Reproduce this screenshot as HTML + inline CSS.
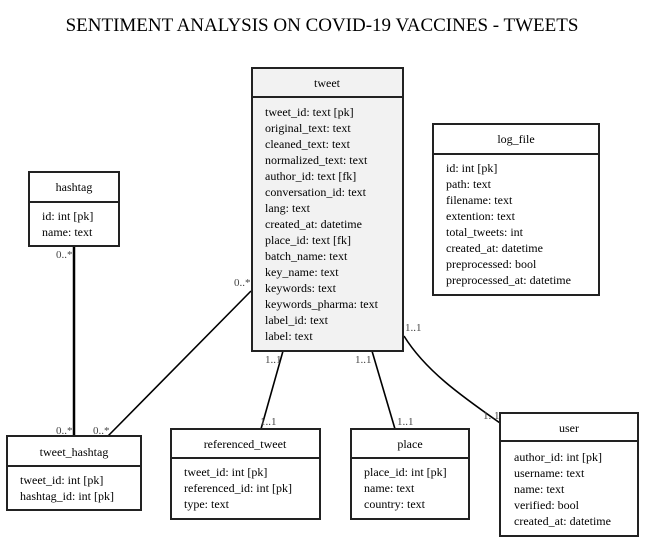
<!DOCTYPE html>
<html><head><meta charset="utf-8"><style>
body{margin:0;background:#fff}
svg, svg text{font-family:"Liberation Serif","Times New Roman",Times,"DejaVu Serif",serif !important;}
.t{font-size:12px}
.c{font-size:11px;fill:#444}
</style></head><body>
<svg width="645" height="543" viewBox="0 0 645 543" xmlns="http://www.w3.org/2000/svg" font-family="Liberation Serif, Times New Roman, serif">
<rect width="645" height="543" fill="#fff"/>
<text x="322" y="31" text-anchor="middle" font-family="Liberation Serif, serif" style="font-size:19px">SENTIMENT ANALYSIS ON COVID-19 VACCINES - TWEETS</text>

<g stroke="#000" fill="none">
<line x1="74" y1="246" x2="74" y2="436" stroke-width="2.5"/>
<line x1="251" y1="291" x2="108" y2="436" stroke-width="1.6"/>
<line x1="283" y1="351" x2="261" y2="429" stroke-width="1.6"/>
<line x1="372" y1="351" x2="395" y2="429" stroke-width="1.6"/>
<path d="M404,336 C425,370 460,395 500,423" stroke-width="1.6"/>
</g>

<g font-family="Liberation Serif, serif">
<text x="56" y="258" class="c">0..*</text>
<text x="56" y="434" class="c">0..*</text>
<text x="93" y="434" class="c">0..*</text>
<text x="234" y="286" class="c">0..*</text>
<text x="265" y="363" class="c">1..1</text>
<text x="260" y="425" class="c">1..1</text>
<text x="355" y="363" class="c">1..1</text>
<text x="397" y="425" class="c">1..1</text>
<text x="405" y="331" class="c">1..1</text>
<text x="483" y="419" class="c">1..1</text>
</g>

<g font-family="Liberation Serif, serif">
<rect x="252" y="68" width="151" height="283" fill="#f2f2f2" stroke="#222" stroke-width="2"/>
<line x1="252" y1="97" x2="403" y2="97" stroke="#222" stroke-width="2"/>
<text x="327" y="87" text-anchor="middle" class="t">tweet</text>
<text class="t" x="265" y="116">tweet_id: text [pk]</text>
<text class="t" x="265" y="132">original_text: text</text>
<text class="t" x="265" y="148">cleaned_text: text</text>
<text class="t" x="265" y="164">normalized_text: text</text>
<text class="t" x="265" y="180">author_id: text [fk]</text>
<text class="t" x="265" y="196">conversation_id: text</text>
<text class="t" x="265" y="212">lang: text</text>
<text class="t" x="265" y="228">created_at: datetime</text>
<text class="t" x="265" y="244">place_id: text [fk]</text>
<text class="t" x="265" y="260">batch_name: text</text>
<text class="t" x="265" y="276">key_name: text</text>
<text class="t" x="265" y="292">keywords: text</text>
<text class="t" x="265" y="308">keywords_pharma: text</text>
<text class="t" x="265" y="324">label_id: text</text>
<text class="t" x="265" y="340">label: text</text>
</g>

<g font-family="Liberation Serif, serif">
<rect x="433" y="124" width="166" height="171" fill="#fff" stroke="#222" stroke-width="2"/>
<line x1="433" y1="154" x2="599" y2="154" stroke="#222" stroke-width="2"/>
<text x="516" y="143" text-anchor="middle" class="t">log_file</text>
<text class="t" x="446" y="172">id: int [pk]</text>
<text class="t" x="446" y="188">path: text</text>
<text class="t" x="446" y="204">filename: text</text>
<text class="t" x="446" y="220">extention: text</text>
<text class="t" x="446" y="236">total_tweets: int</text>
<text class="t" x="446" y="252">created_at: datetime</text>
<text class="t" x="446" y="268">preprocessed: bool</text>
<text class="t" x="446" y="284">preprocessed_at: datetime</text>
</g>

<g font-family="Liberation Serif, serif">
<rect x="29" y="172" width="90" height="74" fill="#fff" stroke="#222" stroke-width="2"/>
<line x1="29" y1="202" x2="119" y2="202" stroke="#222" stroke-width="2"/>
<text x="74" y="191" text-anchor="middle" class="t">hashtag</text>
<text class="t" x="42" y="220">id: int [pk]</text>
<text class="t" x="42" y="236">name: text</text>
</g>

<g font-family="Liberation Serif, serif">
<rect x="7" y="436" width="134" height="74" fill="#fff" stroke="#222" stroke-width="2"/>
<line x1="7" y1="466" x2="141" y2="466" stroke="#222" stroke-width="2"/>
<text x="74" y="456" text-anchor="middle" class="t">tweet_hashtag</text>
<text class="t" x="20" y="484">tweet_id: int [pk]</text>
<text class="t" x="20" y="500">hashtag_id: int [pk]</text>
</g>

<g font-family="Liberation Serif, serif">
<rect x="171" y="429" width="149" height="90" fill="#fff" stroke="#222" stroke-width="2"/>
<line x1="171" y1="458" x2="320" y2="458" stroke="#222" stroke-width="2"/>
<text x="245" y="448" text-anchor="middle" class="t">referenced_tweet</text>
<text class="t" x="184" y="476">tweet_id: int [pk]</text>
<text class="t" x="184" y="492">referenced_id: int [pk]</text>
<text class="t" x="184" y="508">type: text</text>
</g>

<g font-family="Liberation Serif, serif">
<rect x="351" y="429" width="118" height="90" fill="#fff" stroke="#222" stroke-width="2"/>
<line x1="351" y1="458" x2="469" y2="458" stroke="#222" stroke-width="2"/>
<text x="410" y="448" text-anchor="middle" class="t">place</text>
<text class="t" x="364" y="476">place_id: int [pk]</text>
<text class="t" x="364" y="492">name: text</text>
<text class="t" x="364" y="508">country: text</text>
</g>

<g font-family="Liberation Serif, serif">
<rect x="500" y="413" width="138" height="123" fill="#fff" stroke="#222" stroke-width="2"/>
<line x1="500" y1="441" x2="638" y2="441" stroke="#222" stroke-width="2"/>
<text x="569" y="432" text-anchor="middle" class="t">user</text>
<text class="t" x="514" y="461">author_id: int [pk]</text>
<text class="t" x="514" y="477">username: text</text>
<text class="t" x="514" y="493">name: text</text>
<text class="t" x="514" y="509">verified: bool</text>
<text class="t" x="514" y="525">created_at: datetime</text>
</g>
</svg>
</body></html>
